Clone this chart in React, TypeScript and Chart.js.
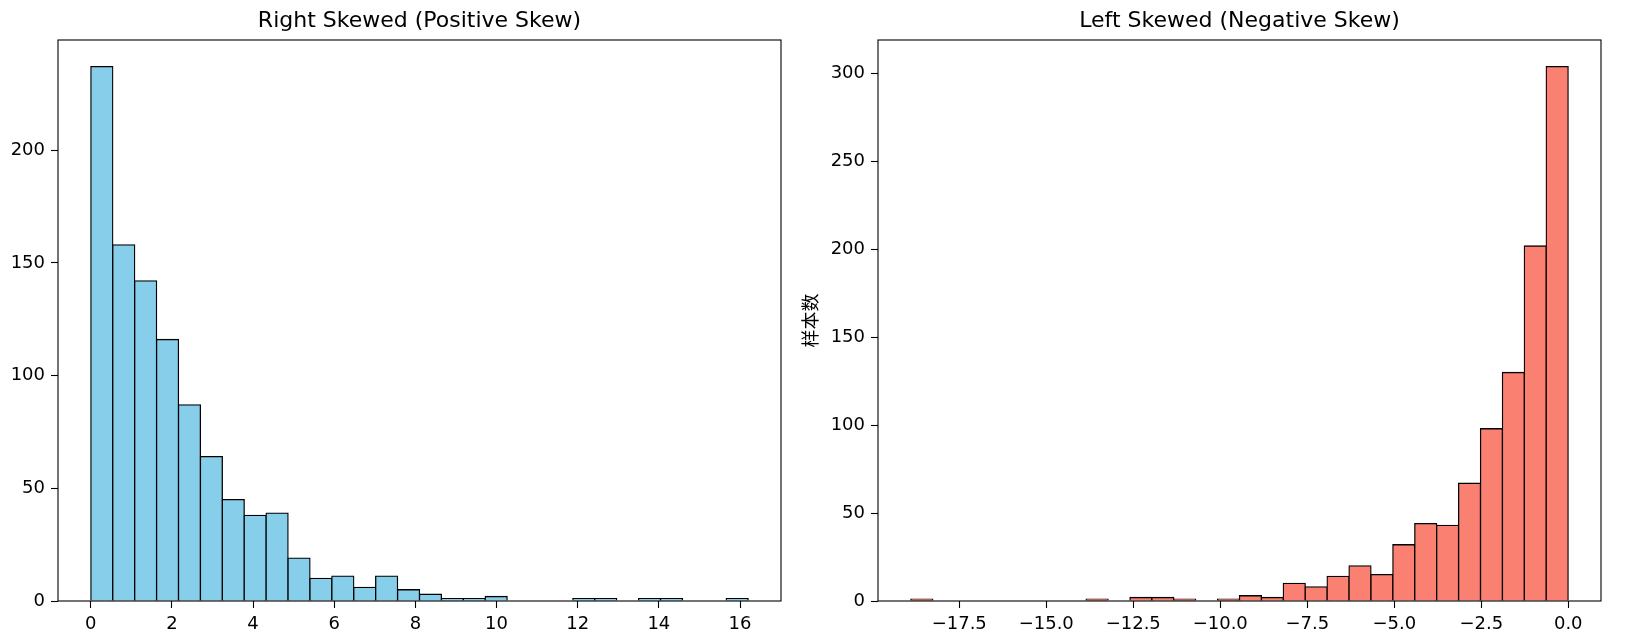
import React, { useEffect, useRef } from "react";
import { Chart, registerables } from "chart.js";

Chart.register(...registerables);

// ---- data ----
const leftTitle = "Right Skewed (Positive Skew)";
const rightTitle = "Left Skewed (Negative Skew)";
const rightYLabel = "样本数";

// 30-bin histogram counts
const leftCounts = [237, 158, 142, 116, 87, 64, 45, 38, 39, 19, 10, 11, 6, 11, 5, 3, 1, 1, 2, 0, 0, 0, 1, 1, 0, 1, 1, 0, 0, 1];
const leftRange = [0.003, 16.2];
const rightCounts = [1, 0, 0, 0, 0, 0, 0, 0, 1, 0, 2, 2, 1, 0, 1, 3, 2, 10, 8, 14, 20, 15, 32, 44, 43, 67, 98, 130, 202, 304];
const rightRange = [-18.89, -0.003];

const leftXTicks = [0, 2, 4, 6, 8, 10, 12, 14, 16];
const rightXTicks = [-17.5, -15, -12.5, -10, -7.5, -5, -2.5, 0];
const leftYTicks = [0, 50, 100, 150, 200];
const rightYTicks = [0, 50, 100, 150, 200, 250, 300];

const FONT = "'DejaVu Sans', sans-serif";

type HistProps = {
  counts: number[];
  range: number[];
  color: string;
  title: string;
  xTicks: number[];
  yTicks: number[];
  yLabel?: string;
  fmt: (v: number) => string;
  left: number;
  width: number;
  padLeft: number;
  padRight: number;
  yWidth: number;
};

function Hist(p: HistProps) {
  const ref = useRef<HTMLCanvasElement | null>(null);
  useEffect(() => {
    const canvas = ref.current!;
    const [lo, hi] = p.range;
    const n = p.counts.length;
    const bw = (hi - lo) / n;
    const data = p.counts.map((c, i) => ({ x: lo + bw * (i + 0.5), y: c === 0 ? null : c }));
    const span = hi - lo;
    const xMin = lo - 0.05 * span;
    const xMax = hi + 0.05 * span;
    const yMax = Math.max(...p.counts) * 1.05;

    const gridOpts = {
      display: true,
      drawOnChartArea: false,
      drawTicks: true,
      tickLength: 7,
      tickColor: "#000",
      tickWidth: 1.1,
      offset: false,
    };

    const framePlugin = {
      id: "frame",
      afterDraw(chart: any) {
        const { ctx, chartArea } = chart;
        const { left, top, right, bottom } = chartArea;
        ctx.save();
        ctx.strokeStyle = "#000";
        ctx.lineWidth = 1.1;
        ctx.strokeRect(left, top, right - left, bottom - top);
        ctx.fillStyle = "#000";
        ctx.font = `22px ${FONT}`;
        ctx.textAlign = "center";
        ctx.textBaseline = "alphabetic";
        ctx.fillText(p.title, (left + right) / 2, 27);
        ctx.restore();
      },
    };

    const chart = new Chart(canvas, {
      type: "bar",
      data: {
        datasets: [
          {
            data: data as any,
            backgroundColor: p.color,
            borderColor: "#000",
            borderWidth: 1.3,
            inflateAmount: 0.65,
            borderSkipped: "start",
            barPercentage: 1,
            categoryPercentage: 1,
            grouped: false,
          } as any,
        ],
      },
      options: {
        responsive: false,
        animation: false,
        devicePixelRatio: 1,
        layout: { padding: { left: p.padLeft, top: 40, right: p.padRight, bottom: 0 } },
        plugins: {
          legend: { display: false },
          tooltip: { enabled: false },
          title: { display: false },
        },
        scales: {
          x: {
            type: "linear",
            min: xMin,
            max: xMax,
            offset: false,
            afterBuildTicks: (s: any) => {
              s.ticks = p.xTicks.map((v) => ({ value: v }));
            },
            afterFit: (s: any) => {
              s.height = 39;
            },
            ticks: {
              autoSkip: false,
              maxRotation: 0,
              padding: 6,
              color: "#000",
              font: { family: FONT, size: 18 },
              callback: (v: any) => p.fmt(Number(v)),
            },
            grid: gridOpts as any,
            border: { display: false },
          },
          y: {
            type: "linear",
            min: 0,
            max: yMax,
            afterBuildTicks: (s: any) => {
              s.ticks = p.yTicks.map((v) => ({ value: v }));
            },
            afterFit: (s: any) => {
              s.width = p.yWidth;
            },
            ticks: {
              padding: 6,
              color: "#000",
              font: { family: FONT, size: 18 },
              callback: (v: any) => String(v),
            },
            grid: gridOpts as any,
            border: { display: false },
            title: p.yLabel
              ? {
                  display: true,
                  text: p.yLabel,
                  color: "#000",
                  font: { family: "'Noto Sans CJK SC', sans-serif", size: 18 },
                  padding: { top: 4, bottom: 4 },
                }
              : { display: false },
          },
        },
      } as any,
      plugins: [framePlugin],
    });
    return () => chart.destroy();
  }, []);
  return (
    <canvas
      ref={ref}
      width={p.width}
      height={640}
      style={{ position: "absolute", left: p.left, top: 0, width: p.width, height: 640 }}
    />
  );
}

const fmtInt = (v: number) => String(v);
const fmtOne = (v: number) => v.toFixed(1).replace("-", "\u2212");

export default function App() {
  return (
    <div style={{ position: "absolute", left: 0, top: 0, width: 1628, height: 640, background: "#fff" }}>
      <Hist
        counts={leftCounts}
        range={leftRange}
        color="#87CEEB"
        title={leftTitle}
        xTicks={leftXTicks}
        yTicks={leftYTicks}
        fmt={fmtInt}
        left={0}
        width={790}
        padLeft={0}
        padRight={9}
        yWidth={58}
      />
      <Hist
        counts={rightCounts}
        range={rightRange}
        color="#FA8072"
        title={rightTitle}
        xTicks={rightXTicks}
        yTicks={rightYTicks}
        yLabel={rightYLabel}
        fmt={fmtOne}
        left={790}
        width={838}
        padLeft={5}
        padRight={27}
        yWidth={83}
      />
    </div>
  );
}
